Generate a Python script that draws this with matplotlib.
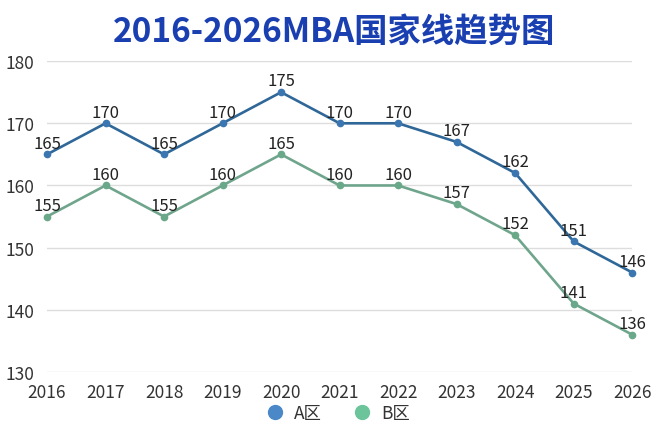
import matplotlib
matplotlib.use("Agg")
import matplotlib.pyplot as plt
from matplotlib.lines import Line2D

plt.rcParams['font.family'] = ['Noto Sans CJK SC', 'DejaVu Sans']

years = [2016, 2017, 2018, 2019, 2020, 2021, 2022, 2023, 2024, 2025, 2026]
a_zone = [165, 170, 165, 170, 175, 170, 170, 167, 162, 151, 146]
b_zone = [155, 160, 155, 160, 165, 160, 160, 157, 152, 141, 136]
series_names = ["A区", "B区"]
title = "2016-2026MBA国家线趋势图"

fig = plt.figure(figsize=(6.68, 4.27), dpi=100)
ax = fig.add_axes([0.0704, 0.1265, 0.876, 0.728])

a_line, a_mark = "#2f6898", "#3b76b0"
b_line, b_mark = "#6fa58c", "#6aa88a"

ax.plot(years, a_zone, color=a_line, lw=1.9, marker='o', ms=4.5,
        mfc=a_mark, mec=a_mark, zorder=3, clip_on=False)
ax.plot(years, b_zone, color=b_line, lw=1.9, marker='o', ms=4.5,
        mfc=b_mark, mec=b_mark, zorder=3, clip_on=False)

for x, y in zip(years, a_zone):
    ax.annotate(str(y), (x, y), xytext=(0, 2), textcoords='offset points',
                ha='center', va='bottom', fontsize=12, color='#222222')
for x, y in zip(years, b_zone):
    ax.annotate(str(y), (x, y), xytext=(0, 2), textcoords='offset points',
                ha='center', va='bottom', fontsize=12, color='#222222')

ax.set_xlim(2016, 2026)
ax.set_ylim(130, 180)
ax.set_xticks(years)
ax.set_xticklabels([str(y) for y in years])
ax.set_yticks([130, 140, 150, 160, 170, 180])
ax.tick_params(length=0, labelsize=12.5, colors='#333333')
ax.tick_params(axis='x', pad=8)
ax.tick_params(axis='y', pad=9)
for s in ax.spines.values():
    s.set_visible(False)
ax.grid(axis='y', color='#dddddd', lw=1)
ax.set_axisbelow(True)

fig.text(0.5, 0.925, title, ha='center', va='center', fontsize=24,
         fontweight='bold', color='#1a3fb0')

handles = [Line2D([], [], ls='', marker='o', ms=10, mfc='#4a88c7', mec='#4a88c7'),
           Line2D([], [], ls='', marker='o', ms=10, mfc='#6cc49a', mec='#6cc49a')]
fig.legend(handles, series_names, loc='center', bbox_to_anchor=(0.5, 0.03),
           ncol=2, frameon=False, fontsize=12.5, handletextpad=0.1,
           columnspacing=1.3, labelcolor='#333333')

fig.savefig("out.png", dpi=100, facecolor='white')
